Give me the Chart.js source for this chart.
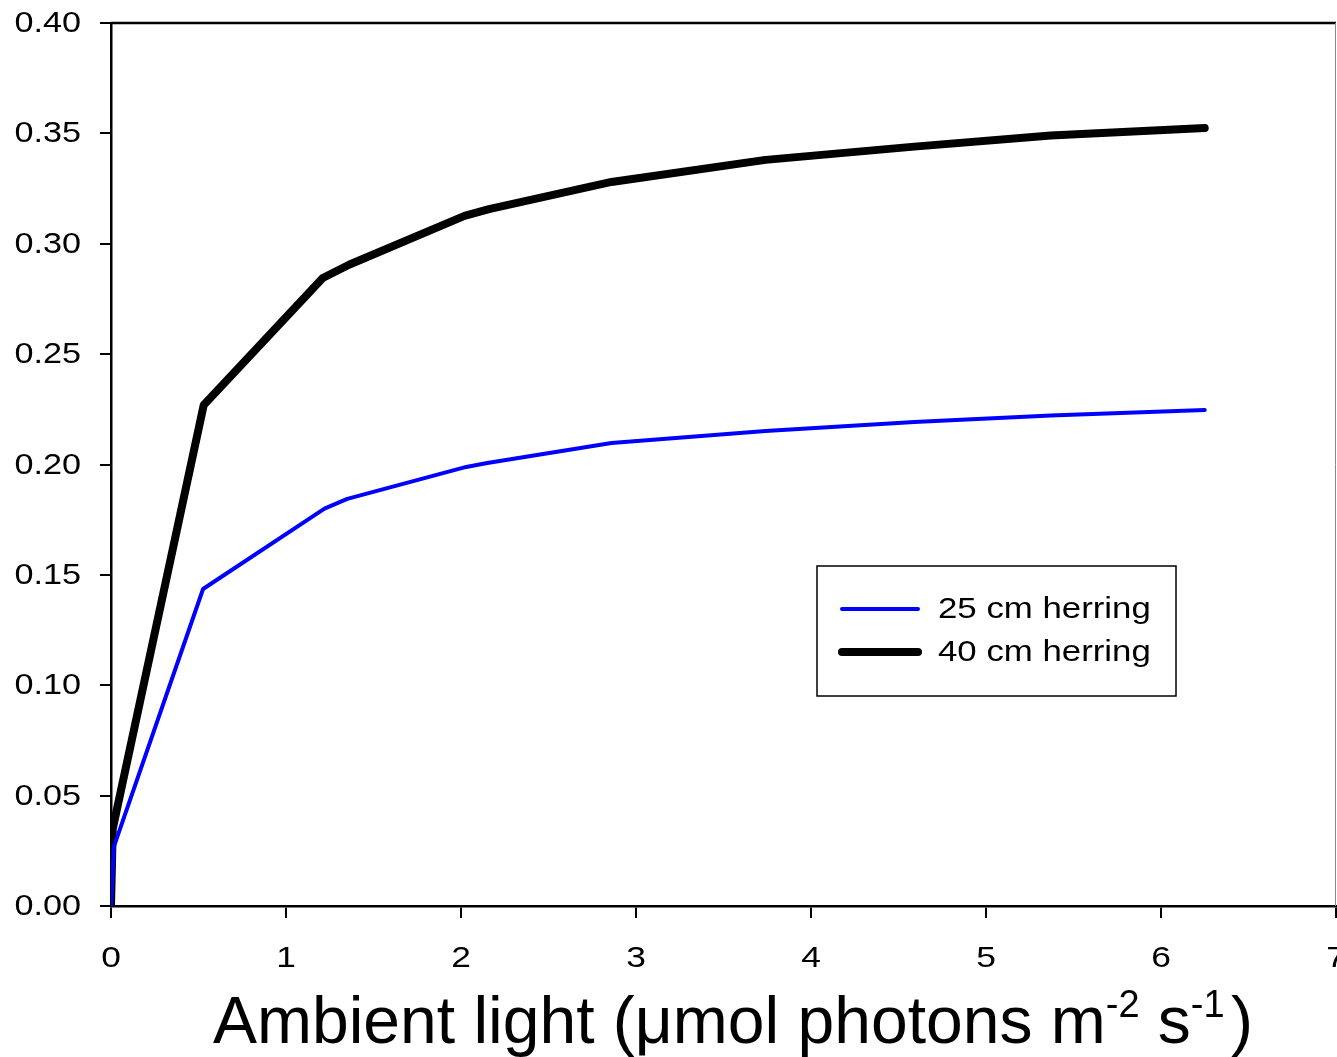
<!DOCTYPE html>
<html>
<head>
<meta charset="utf-8">
<script src="https://cdn.jsdelivr.net/npm/chart.js@4"></script>
<style>
  html, body { margin: 0; padding: 0; background: #fff; }
  #wrap { width: 1337px; height: 1057px; position: relative; }
</style>
</head>
<body>
<div id="wrap"><canvas id="chart" width="1337" height="1057"></canvas></div>
<script>
// data
const xTicks = [0, 1, 2, 3, 4, 5, 6, 7];
const yTicks = [0, 0.05, 0.10, 0.15, 0.20, 0.25, 0.30, 0.35, 0.40];

const light25 = [0, 0.017, 0.526, 1.22, 1.35, 2.03, 2.15, 2.86, 3.74, 4.59, 5.37, 6.25];
const rate25  = [0, 0.027, 0.1436, 0.180, 0.1844, 0.1989, 0.2007, 0.2097, 0.2152, 0.2193, 0.2222, 0.2247];

const light40 = [0, 0.01, 0.53, 1.21, 1.36, 2.02, 2.16, 2.86, 3.74, 4.59, 5.37, 6.25];
const rate40  = [0, 0.035, 0.227, 0.2845, 0.2905, 0.3126, 0.3157, 0.328, 0.338, 0.344, 0.349, 0.3524];

const labels = ["25 cm herring", "40 cm herring"];

const FONT = "'Liberation Sans', Arial, sans-serif";

function pts(xs, ys) {
  return xs.map((x, i) => ({ x: x, y: ys[i] }));
}

// text stretched horizontally like the original export
function wideText(ctx, text, x, y, sx, align) {
  const w = ctx.measureText(text).width * sx;
  let left = x;
  if (align === "center") left = x - w / 2;
  if (align === "right") left = x - w;
  ctx.save();
  ctx.translate(left, y);
  ctx.scale(sx, 1);
  ctx.textAlign = "left";
  ctx.fillText(text, 0, 0);
  ctx.restore();
}

// tick labels, frame, legend box and x axis title
const extras = {
  id: "extras",
  afterDraw(chart) {
    const ctx = chart.ctx;
    const a = chart.chartArea;
    const xs = chart.scales.x, ys = chart.scales.y;
    ctx.save();
    ctx.fillStyle = "#000";

    // tick labels from the scales
    ctx.font = "30px " + FONT;
    ctx.textBaseline = "alphabetic";
    xTicks.forEach(v => wideText(ctx, String(v), xs.getPixelForValue(v), 967, 1.18, "center"));
    ctx.font = "29px " + FONT;
    ctx.textBaseline = "middle";
    yTicks.forEach(v => wideText(ctx, v.toFixed(2), 81, ys.getPixelForValue(v) + 1, 1.18, "right"));

    // top and right edges
    ctx.strokeStyle = "#000";
    ctx.lineWidth = 2.5;
    ctx.beginPath();
    ctx.moveTo(a.left, a.top);
    ctx.lineTo(a.right, a.top);
    ctx.stroke();
    ctx.strokeStyle = "#888";
    ctx.lineWidth = 1;
    ctx.beginPath();
    ctx.moveTo(a.right - 0.5, a.top);
    ctx.lineTo(a.right - 0.5, a.bottom);
    ctx.stroke();

    // legend
    const bx = 817, by = 566, bw = 359, bh = 130;
    ctx.strokeStyle = "#000";
    ctx.lineWidth = 1.5;
    ctx.strokeRect(bx, by, bw, bh);
    ctx.font = "30px " + FONT;
    ctx.textBaseline = "middle";
    chart.data.datasets.forEach((ds, i) => {
      const ly = 609 + i * 43;
      ctx.strokeStyle = ds.borderColor;
      ctx.lineWidth = ds.borderWidth;
      ctx.lineCap = "round";
      ctx.beginPath();
      ctx.moveTo(842, ly);
      ctx.lineTo(918, ly);
      ctx.stroke();
      wideText(ctx, ds.label, 938, ly + 1, 1.16, "left");
    });

    // x axis title with superscripts
    const big = "66px " + FONT, sup = "38px " + FONT;
    const parts = [
      ["Ambient light (\u03bcmol photons m", big, 0],
      ["-2", sup, -26],
      [" s", big, 0],
      ["-1", sup, -26],
      [" )", sup, 0]
    ];
    let x = 213;
    const base = 1043;
    ctx.textBaseline = "alphabetic";
    ctx.textAlign = "left";
    parts.forEach((p, i) => {
      ctx.font = i === parts.length - 1 ? sup : p[1];
      if (i === parts.length - 1) {
        x += ctx.measureText(" ").width * 0.6;
        ctx.font = big;
        ctx.fillText(")", x, base);
        return;
      }
      ctx.fillText(p[0], x, base + p[2]);
      x += ctx.measureText(p[0]).width;
    });
    ctx.restore();
  }
};

new Chart(document.getElementById("chart"), {
  type: "line",
  data: {
    datasets: [
      {
        label: labels[0],
        data: pts(light25, rate25),
        borderColor: "#0000ff",
        borderWidth: 4,
        pointRadius: 0,
        fill: false,
        tension: 0,
        borderCapStyle: "round",
        borderJoinStyle: "round"
      },
      {
        label: labels[1],
        data: pts(light40, rate40),
        borderColor: "#000000",
        borderWidth: 8,
        pointRadius: 0,
        fill: false,
        tension: 0,
        borderCapStyle: "round",
        borderJoinStyle: "round"
      }
    ]
  },
  options: {
    responsive: false,
    animation: false,
    layout: { autoPadding: false, padding: { top: 23, right: 1, left: 0, bottom: 0 } },
    plugins: { legend: { display: false }, tooltip: { enabled: false } },
    scales: {
      x: {
        type: "linear",
        min: 0,
        max: 7,
        afterFit: s => { s.height = 151; },
        afterBuildTicks: s => { s.ticks = xTicks.map(v => ({ value: v })); },
        grid: { drawOnChartArea: false, drawTicks: true, tickLength: 12, color: "#000", lineWidth: 2 },
        border: { color: "#000", width: 2.5 },
        ticks: { display: false }
      },
      y: {
        min: 0,
        max: 0.4,
        afterFit: s => { s.width = 111; },
        afterBuildTicks: s => { s.ticks = yTicks.map(v => ({ value: v })); },
        grid: { drawOnChartArea: false, drawTicks: true, tickLength: 11, color: "#000", lineWidth: 2 },
        border: { color: "#000", width: 2.5 },
        ticks: { display: false }
      }
    }
  },
  plugins: [extras]
});
</script>
</body>
</html>
